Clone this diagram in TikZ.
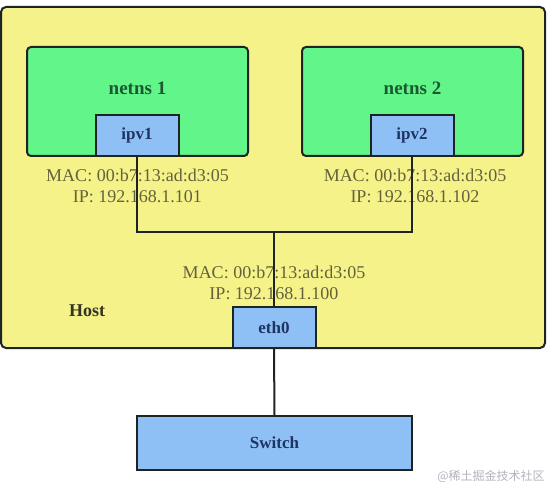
\documentclass[tikz,border=0pt]{standalone}
\usepackage{fontspec}
\setmainfont{Liberation Serif}
\newfontfamily\cjkfont{Noto Sans CJK SC}
\usetikzlibrary{positioning, calc}
\definecolor{edgecol}{RGB}{30,36,36}
\definecolor{hostcol}{RGB}{245,242,138}
\definecolor{nscol}{RGB}{98,245,138}
\definecolor{ifcol}{RGB}{142,192,246}
\definecolor{addrcol}{RGB}{100,98,60}
\definecolor{nstext}{RGB}{28,88,48}
\definecolor{iftext}{RGB}{30,52,98}
\definecolor{hosttext}{RGB}{52,52,36}
\definecolor{markcol}{RGB}{178,178,188}

\begin{document}
\begin{tikzpicture}[
    x=1pt, y=-1pt,
    line width=2pt,
    font=\fontsize{18}{20}\selectfont,
    hostbox/.style={draw=edgecol, fill=hostcol, rounded corners=5pt, inner sep=0pt,
      minimum width=544pt, minimum height=341pt},
    nsbox/.style={draw=edgecol, fill=nscol, rounded corners=4pt, inner sep=0pt,
      minimum width=221pt, minimum height=109pt},
    ifbox/.style={draw=edgecol, fill=ifcol, inner sep=0pt, text=iftext,
      font=\fontsize{17}{19}\selectfont\bfseries,
      minimum width=83pt, minimum height=41pt},
    addr/.style={text=addrcol, align=center, inner sep=0pt},
    wire/.style={draw=edgecol, line width=2pt}
  ]

  \useasboundingbox (0,0) rectangle (552,489);

  % --- host and namespaces ---------------------------------------------
  \node[hostbox] (host) at (273,177.5) {};
  \node[text=hosttext, font=\fontsize{18}{20}\selectfont\bfseries] (hostlbl) at (87,311) {Host};

  \node[nsbox] (ns1) at (137.5,101.5) {};
  \node[nsbox] (ns2) at (412.5,101.5) {};
  \node[text=nstext, font=\fontsize{19}{21}\selectfont\bfseries] (ns1lbl) at (137.5,88) {netns 1};
  \node[text=nstext, font=\fontsize{19}{21}\selectfont\bfseries] (ns2lbl) at (412.5,88) {netns 2};

  % --- interfaces ------------------------------------------------------
  \node[ifbox] (ipv1) at (137,135.5) {ipv1};
  \node[ifbox] (ipv2) at (412,135.5) {ipv2};
  \node[ifbox] (eth0) at (274,327.5) {eth0};
  \node[ifbox, minimum width=275pt, minimum height=54pt] (switch) at (274.5,443) {Switch};

  % --- addresses -------------------------------------------------------
  \node[addr] (addr1) at (137.5,185.5) {MAC: 00:b7:13:ad:d3:05\\[1pt]IP: 192.168.1.101};
  \node[addr] (addr2) at (415,185.5) {MAC: 00:b7:13:ad:d3:05\\[1pt]IP: 192.168.1.102};
  \node[addr] (addr0) at (274,283) {MAC: 00:b7:13:ad:d3:05\\[1pt]IP: 192.168.1.100};

  % --- wiring ----------------------------------------------------------
  \coordinate (bus) at (274,232);
  \draw[wire] (ipv1.south) |- (bus) -| (ipv2.south);
  \draw[wire] (bus) -- (eth0.north);
  \draw[wire] (eth0.south) -- (switch.north);

  \node[text=markcol, font=\cjkfont\fontsize{12}{14}\selectfont, anchor=east] (mark) at (549,476) {@稀土掘金技术社区};

\end{tikzpicture}
\end{document}
